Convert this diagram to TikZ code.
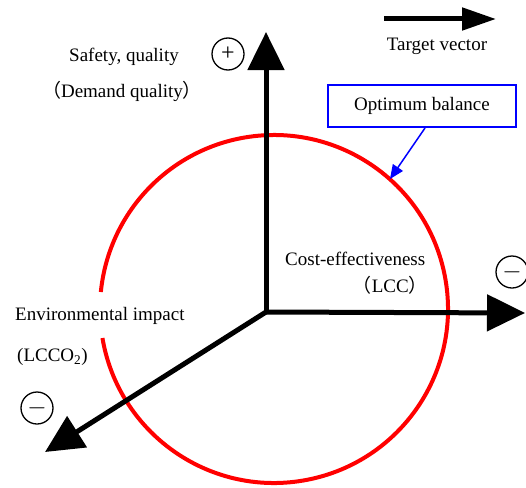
\documentclass[tikz,border=0pt]{standalone}
\usepackage{fontspec}
\setmainfont{Liberation Serif}
\newfontfamily\cjk{Noto Sans CJK JP}
\usetikzlibrary{arrows.meta}
\begin{document}
\begin{tikzpicture}[x=1pt,y=-1pt,
  axis/.style={line width=5pt,-{Triangle[length=38pt,width=36pt]}},
  lbl/.style={font=\fontsize{19}{21}\selectfont,inner sep=0pt},
  sgn/.style={circle,draw,line width=1.3pt,minimum size=32pt,inner sep=0pt,font=\fontsize{24}{24}\selectfont}]
\useasboundingbox (0,0) rectangle (526,487);
\coordinate (O) at (266,312);
\coordinate (Ty) at (266,32);
\coordinate (Tx) at (525,313);
\coordinate (Tz) at (45,452);
% circle with gap
\draw[red,line width=4pt] (274,309) ++(-189.6:174) arc[start angle=-189.6,end angle=-534.4,radius=174];
\draw[axis] (O) -- (Ty);
\draw[axis] (O) -- (Tx);
\draw[axis] (O) -- (Tz);
% target vector
\coordinate (Va) at (384,19);
\coordinate (Vb) at (496,19);
\draw[line width=5pt,-{Triangle[length=34pt,width=22pt]}] (Va) -- (Vb);
\node[lbl] (tv) at (437,46) {Target vector};
% optimum balance
\node[draw=blue,line width=2pt,minimum width=188pt,minimum height=42pt,font=\fontsize{19}{21}\selectfont] (ob) at (422,106) {Optimum balance};
\coordinate (obt) at (390,179);
\draw[blue,line width=1.5pt,-{Triangle[length=14pt,width=12pt]}] (425,128) -- (obt);
% labels
\node[lbl] (sq) at (124,57) {Safety, quality};
\node[lbl] (dq) at (122,91) {{\cjk （}Demand quality{\cjk ）}};
\node[lbl,anchor=west] (ce) at (285,259) {Cost-effectiveness};
\node[lbl,anchor=east] (lcc) at (428,285) {{\cjk （}LCC{\cjk ）}};
\node[lbl,anchor=west] (ei) at (15,316) {Environmental impact};
\node[lbl,anchor=west] (lco) at (17,357) {(LCCO\textsubscript{2})};
% signs
\node[sgn] (sp) at (228,54) {+};
\node[sgn] (sm1) at (512,272) {$-$};
\node[sgn] (sm2) at (37,408) {$-$};
\end{tikzpicture}
\end{document}
